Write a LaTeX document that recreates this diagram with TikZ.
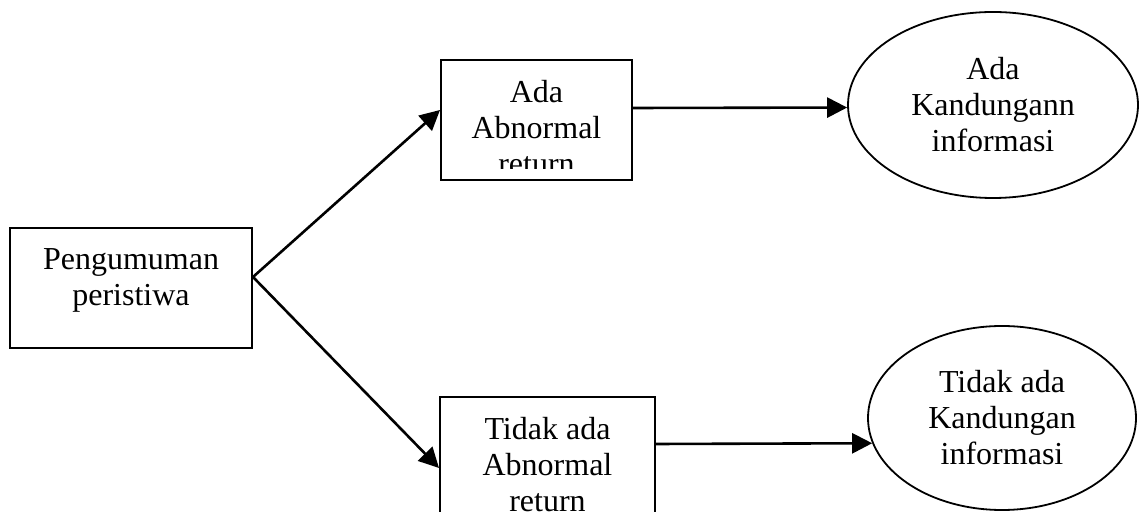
\documentclass[tikz,border=0pt]{standalone}
\usepackage{fontspec}
\setmainfont{Liberation Serif}
\usetikzlibrary{arrows.meta,calc,shapes.geometric}
\tikzset{
  box/.style={rectangle, draw=black, line width=1pt, inner sep=0pt},
  oval/.style={ellipse, draw=black, line width=0.9pt, inner sep=0pt,
               align=center, font=\fontsize{16}{18}\selectfont},
  txt/.style={align=center, inner sep=0pt, font=\fontsize{16}{18}\selectfont},
  flow/.style={-{Triangle[length=10pt,width=10pt]}, draw=black, line width=1.3pt},
}

\begin{document}
\begin{tikzpicture}[x=0.5pt,y=-0.5pt]
  \clip (0,0) rectangle (1146,512);

  % --- announcement (left) ---
  \node[box, minimum width=121pt, minimum height=60pt] (peng) at (131,288) {};
  \node[txt] (pengT) at (131,280) {Pengumuman\\peristiwa};

  % --- abnormal return boxes (middle) ---
  \node[box, minimum width=95.5pt, minimum height=60pt] (ada) at (536.5,120) {};
  \node[box, minimum width=107.5pt, minimum height=71pt] (tidak) at (547.5,468) {};
  \begin{scope}
    \clip (ada.north west) rectangle ($(ada.south east)+(0,-12)$);
    \node[txt] (adaT) at (536.5,128) {Ada\\Abnormal\\return};
  \end{scope}
  \node[txt] (tidakT) at (547.5,465) {Tidak ada\\Abnormal\\return};

  % --- information content (right) ---
  \node[oval, minimum width=145pt, minimum height=93pt] (infoA) at (993,105)
    {Ada\\Kandungann\\informasi};
  \node[oval, minimum width=134pt, minimum height=92pt] (infoB) at (1002,418)
    {Tidak ada\\Kandungan\\informasi};

  % --- connectors ---
  \draw[flow] ([yshift=5.5pt]peng.east) -- ([yshift=5pt]ada.west);
  \draw[flow] ([yshift=5.5pt]peng.east) -- (tidak.west);
  \draw[flow] ([yshift=6pt]ada.east) -- (infoA.181);
  \draw[flow] ([yshift=12pt]tidak.east) -- (infoB.191);
\end{tikzpicture}
\end{document}
